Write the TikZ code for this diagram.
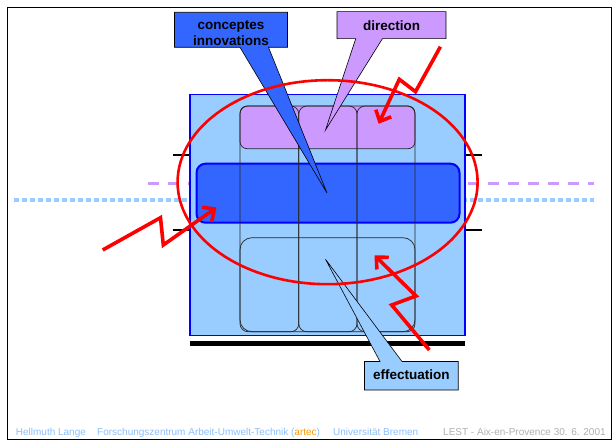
\documentclass[tikz,border=0pt]{standalone}
\usepackage{fontspec}
\setmainfont{Liberation Sans}
\usetikzlibrary{arrows.meta}
\definecolor{lightblue}{HTML}{99CCFF}
\definecolor{royal}{HTML}{3366FF}
\definecolor{lilac}{HTML}{CC99FF}
\definecolor{pureblue}{HTML}{0000FF}
\definecolor{footblue}{HTML}{8DBFFA}
\definecolor{footgray}{HTML}{B0B0B0}
\definecolor{footorange}{HTML}{FF9900}
\tikzset{
  callout/.style={draw=black, line width=0.6pt, line join=miter},
  calltext/.style={font=\fontsize{13.5}{16.6}\selectfont\bfseries, align=center, inner sep=0pt},
  colbox/.style={draw=black!85, line width=0.7pt, rounded corners=8pt},
  zigzag/.style={draw=red, line width=3.6pt, line join=miter, -{Straight Barb[length=9pt,width=17pt]}},
  foot/.style={font=\fontsize{10}{12}\selectfont, anchor=base west, inner sep=0pt},
  tick/.style={draw=black, line width=1.8pt}
}
\begin{document}
\begin{tikzpicture}[x=1pt,y=-1pt]
\useasboundingbox (0,0) rectangle (615,443);
% frame
\draw[line width=1.6pt, fill=white] (7.5,7.5) rectangle (611.5,439.5);
% background lines
\draw[lilac, line width=3pt, dash pattern=on 11pt off 9pt] (148,184) -- (594,184);
\draw[lightblue, line width=4.6pt, dash pattern=on 4.7pt off 3.3pt] (14,200) -- (594,200);
\draw[tick] (172.5,154.7) -- (481.5,154.7);
\draw[tick] (172.5,229.7) -- (481.5,229.7);
\draw[black, line width=5pt] (190,343) -- (465,343);
% big rectangle
\node[draw=pureblue, fill=lightblue, line width=1.2pt, minimum width=275pt, minimum height=240.5pt, inner sep=0pt] (big) at (327.5,215) {};
% inner boxes
\path[fill=lilac, draw=black!85, line width=0.7pt, rounded corners=7pt] (240,106) rectangle (415,148.7);
\node (dirzone) at (327.5,127) {};
\path[fill=lightblue, draw=black!85, line width=0.7pt, rounded corners=12pt] (240,237.7) rectangle (415,331.7);
\node (effzone) at (327.5,285) {};
\path[fill=royal, draw=pureblue, line width=2pt, rounded corners=9pt] (196.5,163.7) rectangle (459.5,222.7);
\node (conzone) at (327.5,193) {};
% columns
\draw[colbox] (240,106) rectangle (298.8,331.7);
\draw[colbox] (298.8,106) rectangle (357,331.7);
\draw[colbox] (357,106) rectangle (415,331.7);
% callouts
\draw[callout, fill=royal] (174.5,12.3) -- (287.5,12.3) -- (287.5,47.3) -- (268.5,47.3) -- (327,193) -- (240,47.3) -- (174.5,47.3) -- cycle;
\node[calltext] (con) at (231,33) {conceptes\\innovations};
\draw[callout, fill=lilac] (337,11.7) -- (446,11.7) -- (446,38.7) -- (382.4,38.7) -- (325.5,130) -- (355.7,38.7) -- (337,38.7) -- cycle;
\node[calltext] (dir) at (391.5,25.6) {direction};
\draw[callout, fill=lightblue] (364.5,361.5) -- (380,361.5) -- (325.5,259.3) -- (402,361.5) -- (458.2,361.5) -- (458.2,390) -- (364.5,390) -- cycle;
\node[calltext] (eff) at (411.3,374.5) {effectuation};
% ellipse
\draw[red, line width=2.6pt] (327.6,182.2) ellipse [x radius=150pt, y radius=102pt];
% lightning arrows
\coordinate (a1) at (440.4,46.7); \coordinate (a2) at (415.5,91.7); \coordinate (a3) at (399.3,79.3); \coordinate (a4) at (378.6,123.8);
\draw[zigzag] (a1) -- (a2) -- (a3) -- (a4);
\coordinate (b1) at (102.7,250); \coordinate (b2) at (160.5,217.7); \coordinate (b3) at (163.3,245); \coordinate (b4) at (216.5,207.5);
\draw[zigzag] (b1) -- (b2) -- (b3) -- (b4);
\coordinate (c1) at (429.3,350); \coordinate (c2) at (391.7,305); \coordinate (c3) at (416,296); \coordinate (c4) at (374.5,255.3);
\draw[zigzag] (c1) -- (c2) -- (c3) -- (c4);
% footer
\node[foot, text=footblue] (f1) at (15.7,435) {Hellmuth Lange};
\node[foot, text=footblue] (f2) at (97,435) {Forschungszentrum Arbeit-Umwelt-Technik (\textcolor{footorange}{artec})};
\node[foot, text=footblue] (f3) at (333,435) {Universität Bremen};
\node[foot, text=footgray] (f4) at (443,435) {LEST - Aix-en-Provence 30. 6. 2001};
\end{tikzpicture}
\end{document}
